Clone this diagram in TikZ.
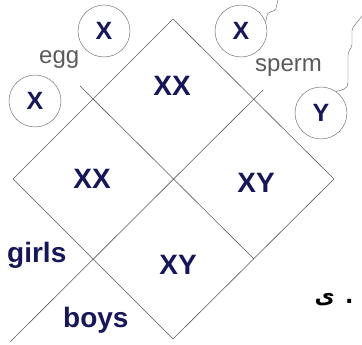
\documentclass[tikz,border=0pt]{standalone}
\usepackage{fontspec}
\setmainfont{Liberation Sans}
\newfontfamily\arabicfont[Script=Arabic]{DejaVu Sans}
\TeXXeTstate=1
\definecolor{navy}{HTML}{16165A}
\definecolor{pen}{HTML}{5A5A5A}
\begin{document}
\begin{tikzpicture}[x=1pt,y=-1pt,
  chrom/.style={draw=pen,circle,minimum size=52pt,inner sep=0pt,text=navy,font=\fontsize{25}{25}\selectfont\bfseries},
  cell/.style={text=navy,inner sep=0pt,font=\fontsize{28}{28}\selectfont\bfseries},
  tag/.style={text=pen,inner sep=0pt,anchor=base west,font=\fontsize{24}{24}\selectfont},
  grid/.style={draw=pen,line width=.6pt}]
\useasboundingbox (0,0) rectangle (362,345);
% corners and edge midpoints of the square
\coordinate (t) at (173,19);
\coordinate (r) at (334,179);
\coordinate (b) at (173,339);
\coordinate (l) at (13,179);
\coordinate (tl) at (93,99);
\coordinate (tr) at (254,99);
\coordinate (br) at (254,259);
\coordinate (bl) at (93,259);
\coordinate (tlx) at (80,86);
\coordinate (trx) at (263,90);
\coordinate (blx) at (10,342);
\draw[grid] (t) -- (r) -- (b) -- (l) -- cycle;
\draw[grid] (tlx) -- (br);
\draw[grid] (trx) -- (blx);
% gametes
\node[chrom] (e1) at (104,31) {X};
\node[chrom] (e2) at (35,101) {X};
\node[chrom] (s1) at (241,31) {X};
\node[chrom] (s2) at (321,113) {Y};
\node[tag] (egg) at (39,64) {egg};
\node[tag] (sperm) at (255,72) {sperm};
% tails
\coordinate (s1end) at (278,0);
\coordinate (s2end) at (362,16);
\draw[pen,rounded corners=1.5pt] (s1.20) -- ++(2,-9) -- ++(8,-3) -- (s1end);
\draw[pen,rounded corners=2pt] (s2.55) -- ++(10,-3) -- ++(2,-4) -- ++(0,-32) -- ++(4,-6) -- ++(0,-18) -- (s2end);
% offspring
\node[cell] (c1) at (172,86) {XX};
\node[cell] (c2) at (92,179) {XX};
\node[cell] (c3) at (256,183) {XY};
\node[cell] (c4) at (178,265) {XY};
\node[cell,anchor=base west] (girls) at (7,262) {girls};
\node[cell,anchor=base west] (boys) at (63,327) {boys};
\node[inner sep=0pt,anchor=base,font=\arabicfont\bfseries\fontsize{22}{22}\selectfont] (frag) at (334,303) {\beginR. ی\endR};
\end{tikzpicture}
\end{document}
